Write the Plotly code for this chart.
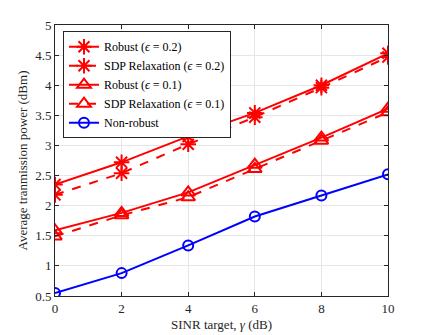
import plotly.graph_objects as go

gamma = [0, 2, 4, 6, 8, 10]
robust_02 = [2.35, 2.72, 3.15, 3.54, 4.00, 4.53]
sdp_02 = [2.18, 2.54, 3.02, 3.47, 3.96, 4.47]
robust_01 = [1.59, 1.88, 2.22, 2.68, 3.13, 3.61]
sdp_01 = [1.49, 1.84, 2.14, 2.61, 3.08, 3.55]
non_robust = [0.55, 0.88, 1.34, 1.82, 2.17, 2.52]

names = ["Robust (<i>ϵ</i> = 0.2)", "SDP Relaxation (<i>ϵ</i> = 0.2)",
         "Robust (<i>ϵ</i> = 0.1)", "SDP Relaxation (<i>ϵ</i> = 0.1)", "Non-robust"]
series = [robust_02, sdp_02, robust_01, sdp_01, non_robust]
colors = ["#ff0000", "#ff0000", "#ff0000", "#ff0000", "#0000ff"]
dashes = ["solid", "dash", "solid", "dash", "solid"]
symbols = ["asterisk-open", "asterisk-open", "triangle-up-open", "triangle-up-open", "circle-open"]
sizes = [13, 13, 12, 12, 10]

fig = go.Figure()
for n, y, c, d, s, sz in zip(names, series, colors, dashes, symbols, sizes):
    fig.add_trace(go.Scatter(
        x=gamma, y=y, name=n, mode="lines+markers",
        line=dict(color=c, width=2, dash=d),
        marker=dict(symbol=s, size=sz, color=c, line=dict(color=c, width=2)),
    ))

font = "Liberation Serif"
axis_common = dict(
    showline=True, linecolor="#262626", linewidth=1, mirror="ticks",
    ticks="inside", ticklen=4, tickcolor="#262626",
    showgrid=True, gridcolor="#e6e6e6", gridwidth=1, zeroline=False,
    tickfont=dict(family=font, size=13, color="#262626"),
    automargin=False,
)
fig.update_layout(
    width=429, height=335,
    margin=dict(l=55, r=41, t=25, b=39),
    paper_bgcolor="white", plot_bgcolor="white",
    font=dict(family=font, size=13, color="#262626"),
    xaxis=dict(range=[0, 10], tickvals=[0, 2, 4, 6, 8, 10],
               title=dict(text="SINR target, <i>γ</i> (dB)", font=dict(family=font, size=13), standoff=5),
               **axis_common),
    yaxis=dict(range=[0.5, 5], tickvals=[0.5, 1, 1.5, 2, 2.5, 3, 3.5, 4, 4.5, 5],
               ticktext=["0.5", "1", "1.5", "2", "2.5", "3", "3.5", "4", "4.5", "5"],
               title=dict(text="Average tranmission power (dBm)", font=dict(family=font, size=13), standoff=4),
               **axis_common),
    legend=dict(x=0.024, y=0.977, xanchor="left", yanchor="top",
                bgcolor="white", bordercolor="#262626", borderwidth=1,
                font=dict(family=font, size=12, color="#000000"),
                tracegroupgap=0, itemwidth=30),
    showlegend=True,
)
fig.write_html("out.html", config={"displayModeBar": False})

# remove the browser's default page margin so the figure sits at the window origin
with open("out.html", "r", encoding="utf-8") as f:
    html = f.read()
html = html.replace("<head>", "<head><style>html,body{margin:0;padding:0;overflow:hidden;}</style>", 1)
with open("out.html", "w", encoding="utf-8") as f:
    f.write(html)
